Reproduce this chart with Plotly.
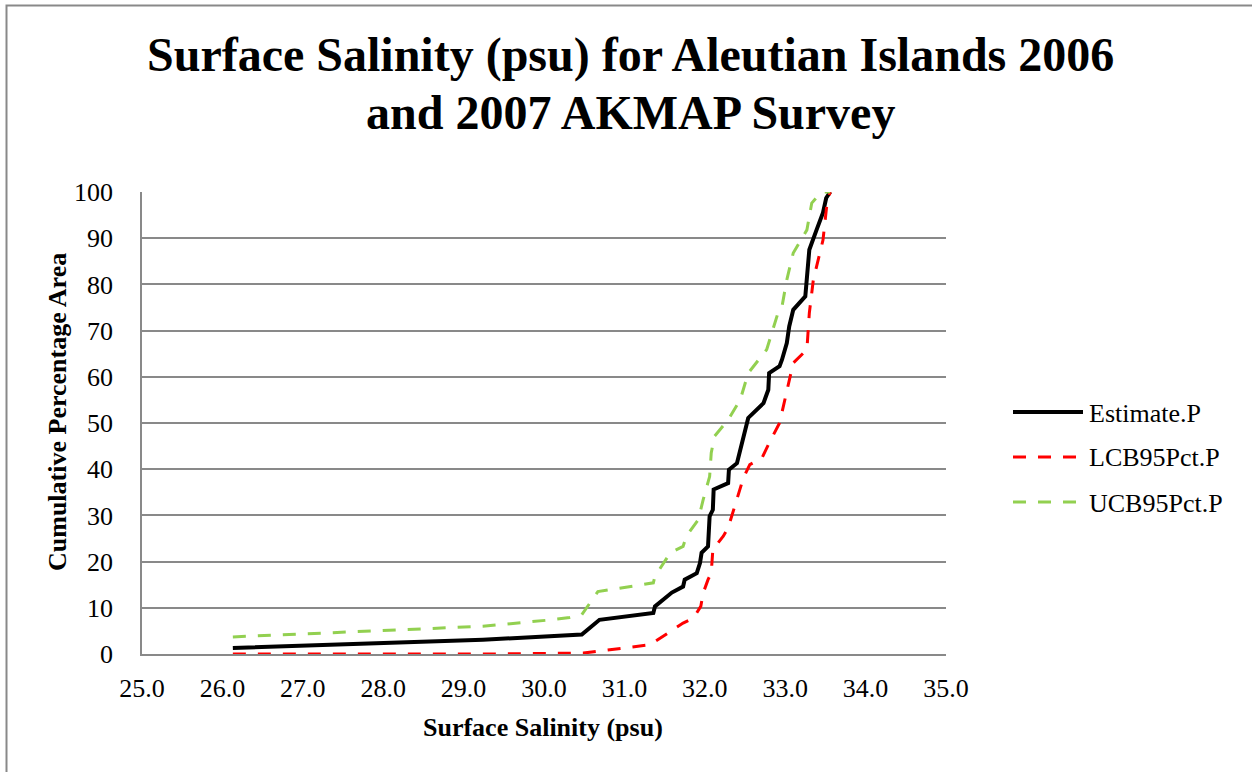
import plotly.graph_objects as go

# Cumulative distribution of surface salinity, with 95% confidence bounds
est_x = [26.13, 29.24, 30.47, 30.69, 31.36, 31.38, 31.59, 31.73, 31.75, 31.90, 31.94,
         31.96, 32.04, 32.06, 32.10, 32.11, 32.29, 32.30, 32.40, 32.44, 32.48, 32.54,
         32.73, 32.79, 32.80, 32.93, 32.96, 33.02, 33.05, 33.10, 33.25, 33.27, 33.30,
         33.39, 33.47, 33.51, 33.56]
est_y = [1.3, 3.1, 4.2, 7.4, 8.9, 10.3, 13.3, 14.6, 16.1, 17.5, 19.7,
         21.9, 23.3, 29.8, 31.2, 35.6, 37.0, 39.9, 41.3, 43.9, 47.1, 51.1,
         54.3, 57.2, 60.8, 62.3, 63.7, 67.3, 70.9, 74.5, 77.4, 81.0, 87.5,
         91.8, 95.5, 98.7, 100.0]

lcb_x = [26.13, 29.24, 30.49, 30.82, 31.19, 31.32, 31.73, 31.86, 31.95, 31.98, 32.04,
         32.08, 32.10, 32.23, 32.29, 32.48, 32.56, 32.71, 32.79, 32.93, 33.10, 33.27,
         33.30, 33.35, 33.47, 33.52, 33.56]
lcb_y = [0.0, 0.0, 0.2, 0.9, 1.6, 2.0, 6.7, 7.8, 10.3, 13.2, 16.1,
         17.5, 22.6, 25.5, 27.3, 38.1, 41.0, 42.4, 45.3, 50.0, 63.0, 65.9,
         73.8, 81.0, 89.6, 97.6, 100.0]

ucb_x = [26.13, 29.24, 30.03, 30.32, 30.47, 30.67, 31.36, 31.38, 31.57, 31.73, 31.77,
         31.92, 31.98, 32.06, 32.08, 32.12, 32.29, 32.44, 32.54, 32.77, 32.91, 32.96,
         33.02, 33.10, 33.27, 33.33, 33.45, 33.56]
ucb_y = [3.7, 6.0, 7.3, 7.9, 8.5, 13.5, 15.4, 16.8, 21.9, 23.3, 25.5,
         29.1, 33.4, 38.4, 43.5, 47.1, 50.7, 55.0, 60.8, 65.9, 73.8, 75.2,
         81.0, 86.8, 91.8, 97.6, 100.0, 100.0]

series_names = ["Estimate.P", "LCB95Pct.P", "UCB95Pct.P"]
series_colors = ["#000000", "#FF0000", "#92D050"]
series_dash = ["solid", "13px,12px", "13px,12px"]
series_width = [4, 3, 3]
series_x = [est_x, lcb_x, ucb_x]
series_y = [est_y, lcb_y, ucb_y]

x_ticks = [25, 26, 27, 28, 29, 30, 31, 32, 33, 34, 35]
y_ticks = [0, 10, 20, 30, 40, 50, 60, 70, 80, 90, 100]

title_lines = ["Surface Salinity (psu) for Aleutian Islands 2006",
               "and 2007 AKMAP Survey"]

FONT = "Liberation Serif, Times New Roman, serif"
GRID = "#898989"
TXT = 26

fig = go.Figure()
for name, xs, ys, col, dash, w in zip(series_names, series_x, series_y,
                                      series_colors, series_dash, series_width):
    fig.add_trace(go.Scatter(x=xs, y=ys, mode="lines", name=name,
                             line=dict(color=col, width=w, dash=dash),
                             showlegend=False))

# Plot area geometry (pixels) used to place the hand-drawn legend, titles and border
W, H = 1252, 772
L, R, T, B = 142, 306, 192, 118
pw, ph = W - L - R, H - T - B


def px_x(p):
    return (p - L) / pw


def px_y(p):
    return (H - B - p) / ph


shapes = []
annotations = []

# Legend: long line samples followed by labels
leg_rows = [412, 457, 502]
for name, col, dash, w, yy in zip(series_names, series_colors, series_dash,
                                  series_width, leg_rows):
    shapes.append(dict(type="line", xref="paper", yref="paper",
                       x0=px_x(1013), x1=px_x(1083), y0=px_y(yy), y1=px_y(yy),
                       line=dict(color=col, width=w, dash=dash)))
    annotations.append(dict(text=name, xref="paper", yref="paper",
                            x=px_x(1087), y=px_y(yy + 1), xanchor="left",
                            yanchor="middle", showarrow=False,
                            font=dict(family=FONT, size=TXT, color="#000000")))

# Chart frame
shapes.append(dict(type="rect", xref="paper", yref="paper",
                   x0=px_x(6.5), x1=px_x(1300), y0=px_y(820), y1=px_y(5.5),
                   line=dict(color=GRID, width=2), fillcolor="rgba(0,0,0,0)",
                   layer="below"))

# Two-line chart title
for line, yc in zip(title_lines, [55, 112]):
    annotations.append(dict(text=f"<b>{line}</b>", xref="paper", yref="paper",
                            x=px_x(630), y=px_y(yc), xanchor="center", yanchor="middle",
                            showarrow=False,
                            font=dict(family=FONT, size=48, color="#000000")))

# Axis titles
annotations.append(dict(text="<b>Surface Salinity (psu)</b>", xref="paper", yref="paper",
                        x=px_x(543), y=px_y(727), xanchor="center", yanchor="middle",
                        showarrow=False, font=dict(family=FONT, size=TXT, color="#000000")))
annotations.append(dict(text="<b>Cumulative Percentage Area</b>", xref="paper", yref="paper",
                        x=px_x(57), y=px_y(412), xanchor="center", yanchor="middle",
                        textangle=-90, showarrow=False,
                        font=dict(family=FONT, size=TXT, color="#000000")))

fig.update_layout(
    width=W, height=H,
    margin=dict(l=L, r=R, t=T, b=B, pad=0),
    paper_bgcolor="white", plot_bgcolor="white",
    font=dict(family=FONT, size=TXT, color="#000000"),
    shapes=shapes,
    annotations=annotations,
    showlegend=False,
)

fig.update_xaxes(range=[25, 35], tickvals=x_ticks,
                 ticktext=[f"{v:.1f}" for v in x_ticks],
                 showgrid=False, zeroline=False,
                 showline=True, linecolor=GRID, linewidth=1.5,
                 ticks="", ticklabelstandoff=10,
                 tickfont=dict(family=FONT, size=TXT, color="#000000"))
fig.update_yaxes(range=[0, 100], tickvals=y_ticks,
                 showgrid=True, gridcolor=GRID, gridwidth=1.5, zeroline=False,
                 showline=True, linecolor=GRID, linewidth=1.5,
                 ticks="", ticklabelstandoff=22,
                 tickfont=dict(family=FONT, size=TXT, color="#000000"))

fig.write_html("out.html")
